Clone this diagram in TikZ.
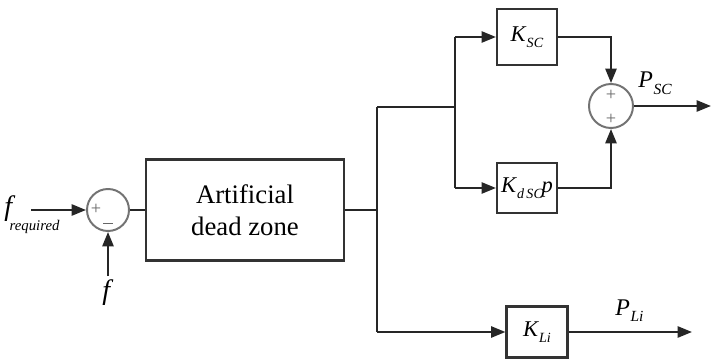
\documentclass[tikz,border=0pt]{standalone}
\usepackage{fontspec}
\setmainfont{Liberation Serif}
\usetikzlibrary{arrows.meta}
\newcommand\lowsub[2]{\raisebox{-0.55ex}{\fontsize{#1}{#1}\selectfont\textit{#2}}}
\begin{document}
\begin{tikzpicture}[x=0.025cm,y=-0.025cm,
  ln/.style={line width=1.5pt,draw=black!85},
  arr/.style={ln,-{Triangle[length=3.6mm,width=2.8mm]}},
  blk/.style={draw=black!80,line width=1.5pt,fill=white,inner sep=0pt},
  sumc/.style={circle,draw=black!55,line width=1.4pt,fill=white,inner sep=0pt,minimum size=1.05cm},
  sgn/.style={text=black!60,font=\fontsize{13}{13}\selectfont,inner sep=0pt},
  lbl/.style={inner sep=0pt}]
\useasboundingbox (0,0) rectangle (712,361);
% blocks
\node[sumc] (s1) at (108,210) {};
\node[blk,minimum width=4.95cm,minimum height=2.525cm,align=center,font=\fontsize{19}{23}\selectfont] (box) at (245,210) {Artificial\\dead zone};
\node[blk,minimum width=1.5cm,minimum height=1.4cm] (ksc) at (527,37) {\fontsize{16}{16}\selectfont\textit{K}\lowsub{10}{SC}};
\node[blk,minimum width=1.5cm,minimum height=1.25cm] (kdsc) at (527,188) {\fontsize{16}{16}\selectfont\textit{K}\lowsub{10}{d\,SC}\kern-1pt\textit{p}};
\node[blk,minimum width=1.525cm,minimum height=1.275cm] (kli) at (537,332) {\fontsize{16}{16}\selectfont\textit{K}\lowsub{10}{Li}};
\node[sumc,minimum size=1.1cm] (s2) at (611,106) {};
% signs
\node[sgn] (p1) at (96,209) {+};
\node[sgn] (m1) at (108,226) {\rule[0.6ex]{7pt}{1.1pt}};
\node[sgn] (p2) at (611,95) {+};
\node[sgn] (p3) at (611,119) {+};
% coordinates
\coordinate (fr) at (31,210);
\coordinate (fin) at (108,276);
\coordinate (j0) at (377,210);
\coordinate (j1top) at (377,107);
\coordinate (j1bot) at (377,332);
\coordinate (j2) at (455,107);
\coordinate (j2top) at (455,37);
\coordinate (j2bot) at (455,188);
\coordinate (pscout) at (711,106);
\coordinate (pliout) at (692,332);
% connectors
\draw[arr] (fr) -- (s1.west);
\draw[arr] (fin) -- (s1.south);
\draw[ln] (s1.east) -- (box.west);
\draw[ln] (box.east) -- (j0);
\draw[ln] (j1top) -- (j1bot);
\draw[ln] (j1top) -- (j2);
\draw[ln] (j2top) -- (j2bot);
\draw[arr] (j2top) -- (ksc.west);
\draw[arr] (j2bot) -- (kdsc.west);
\draw[arr] (j1bot) -- (kli.west);
\draw[arr] (ksc.east) -| (s2.north);
\draw[arr] (kdsc.east) -| (s2.south);
\draw[arr] (s2.east) -- (pscout);
\draw[arr] (kli.east) -- (pliout);
% labels
\node[lbl,anchor=base west] (lfr) at (4,215) {\fontsize{20}{20}\selectfont\textit{f}\kern-4pt\raisebox{-1.2ex}{\fontsize{10.5}{10.5}\selectfont\textit{required}}};
\node[lbl,anchor=base] (lf) at (108,299) {\fontsize{20}{20}\selectfont\textit{f}};
\node[lbl,anchor=base west] (lpsc) at (638,88) {\fontsize{17}{17}\selectfont\textit{P}\kern0.5pt\lowsub{11}{SC}};
\node[lbl,anchor=base west] (lpli) at (615,315) {\fontsize{17}{17}\selectfont\textit{P}\kern0.5pt\lowsub{11}{Li}};
\end{tikzpicture}
\end{document}
